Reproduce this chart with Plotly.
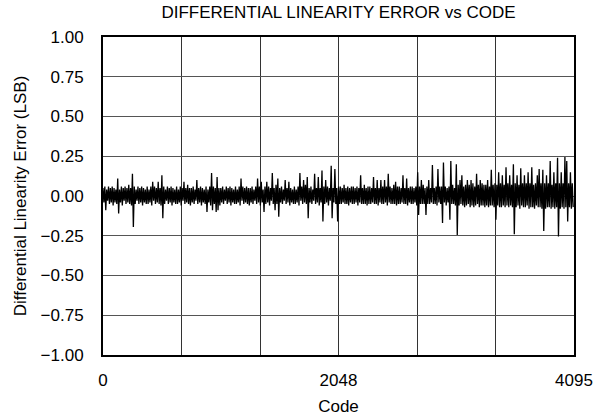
import plotly.graph_objects as go

# DNL values (LSB), one reading every 8 codes, estimated from the reference trace
dnl = [
    0.05,-0.04,0.06,-0.09,0.04,-0.03,0.06,-0.05,0.05,-0.04,0.06,-0.06,0.05,-0.04,0.04,-0.05,
    0.11,-0.11,0.04,-0.04,0.06,-0.06,0.05,-0.03,0.06,-0.05,0.05,-0.04,0.07,-0.05,0.05,-0.06,
    0.14,-0.195,0.06,-0.05,0.04,-0.03,0.06,-0.05,0.05,-0.04,0.06,-0.06,0.05,-0.04,0.04,-0.05,
    0.06,-0.05,0.04,-0.04,0.06,-0.06,0.09,-0.03,0.06,-0.05,0.05,-0.04,0.09,-0.05,0.05,-0.06,
    0.13,-0.14,0.06,-0.05,0.04,-0.03,0.06,-0.05,0.05,-0.04,0.06,-0.06,0.05,-0.04,0.04,-0.05,
    0.06,-0.05,0.04,-0.04,0.06,-0.06,0.05,-0.03,0.09,-0.05,0.05,-0.04,0.07,-0.05,0.05,-0.06,
    0.05,-0.04,0.06,-0.05,0.04,-0.03,0.10,-0.05,0.05,-0.04,0.06,-0.06,0.05,-0.04,0.04,-0.05,
    0.06,-0.10,0.04,-0.04,0.06,-0.06,0.145,-0.09,0.06,-0.05,0.05,-0.10,0.12,-0.09,0.05,-0.06,
    0.05,-0.04,0.06,-0.05,0.04,-0.03,0.06,-0.05,0.05,-0.04,0.06,-0.06,0.05,-0.04,0.04,-0.05,
    0.06,-0.05,0.04,-0.04,0.06,-0.06,0.11,-0.03,0.06,-0.05,0.05,-0.04,0.06,-0.05,0.05,-0.06,
    0.05,-0.04,0.06,-0.05,0.04,-0.03,0.06,-0.05,0.11,-0.04,0.06,-0.06,0.09,-0.04,0.04,-0.10,
    0.06,-0.05,0.09,-0.04,0.06,-0.06,0.05,-0.03,0.145,-0.05,0.05,-0.09,0.07,-0.05,0.11,-0.13,
    0.05,-0.04,0.06,-0.05,0.04,-0.03,0.10,-0.05,0.05,-0.04,0.09,-0.06,0.05,-0.04,0.04,-0.05,
    0.06,-0.05,0.04,-0.04,0.06,-0.06,0.145,-0.03,0.06,-0.05,0.10,-0.04,0.07,-0.05,0.12,-0.14,
    0.05,-0.04,0.06,-0.05,0.04,-0.03,0.14,-0.05,0.05,-0.04,0.12,-0.06,0.05,-0.04,0.16,-0.16,
    0.06,-0.05,0.10,-0.04,0.06,-0.06,0.05,-0.03,0.19,-0.14,0.05,-0.04,0.17,-0.05,0.05,-0.16,
    0.06,-0.05,0.06,-0.05,0.05,-0.04,0.07,-0.05,0.05,-0.05,0.06,-0.06,0.05,-0.04,0.06,-0.05,
    0.06,-0.05,0.05,-0.04,0.06,-0.06,0.05,-0.04,0.13,-0.05,0.05,-0.05,0.07,-0.05,0.05,-0.06,
    0.06,-0.05,0.06,-0.05,0.05,-0.04,0.12,-0.05,0.05,-0.05,0.10,-0.06,0.05,-0.04,0.10,-0.05,
    0.06,-0.05,0.10,-0.04,0.06,-0.06,0.14,-0.04,0.06,-0.05,0.05,-0.05,0.07,-0.05,0.09,-0.06,
    0.06,-0.05,0.06,-0.05,0.05,-0.04,0.13,-0.05,0.05,-0.05,0.11,-0.06,0.05,-0.04,0.06,-0.05,
    0.06,-0.05,0.05,-0.04,0.06,-0.06,0.15,-0.12,0.06,-0.05,0.10,-0.05,0.07,-0.05,0.05,-0.12,
    0.06,-0.05,0.10,-0.05,0.05,-0.04,0.195,-0.05,0.05,-0.05,0.06,-0.06,0.17,-0.04,0.06,-0.05,
    0.06,-0.17,0.21,-0.04,0.06,-0.06,0.05,-0.04,0.06,-0.15,0.22,-0.05,0.07,-0.05,0.05,-0.06,
    0.20,-0.245,0.07,-0.06,0.10,-0.05,0.13,-0.06,0.06,-0.07,0.07,-0.06,0.10,-0.05,0.07,-0.07,
    0.10,-0.06,0.08,-0.07,0.06,-0.06,0.14,-0.05,0.07,-0.07,0.10,-0.06,0.08,-0.06,0.07,-0.07,
    0.07,-0.06,0.10,-0.07,0.06,-0.06,0.165,-0.06,0.07,-0.07,0.08,-0.15,0.07,-0.06,0.15,-0.07,
    0.08,-0.07,0.13,-0.06,0.07,-0.07,0.18,-0.06,0.08,-0.07,0.13,-0.06,0.07,-0.07,0.20,-0.24,
    0.08,-0.07,0.13,-0.06,0.07,-0.08,0.175,-0.06,0.08,-0.07,0.13,-0.07,0.08,-0.06,0.15,-0.08,
    0.08,-0.07,0.18,-0.07,0.07,-0.08,0.08,-0.06,0.13,-0.07,0.17,-0.07,0.08,-0.08,0.165,-0.22,
    0.08,-0.08,0.13,-0.07,0.08,-0.07,0.22,-0.08,0.07,-0.07,0.15,-0.08,0.08,-0.07,0.24,-0.255,
    0.08,-0.08,0.15,-0.07,0.08,-0.08,0.245,-0.07,0.22,-0.16,0.08,-0.07,0.15,-0.08,0.08,-0.07,
]
code_step = 8
codes = [i * code_step for i in range(len(dnl))]

x_grid = [0, 682.5, 1365, 2047.5, 2730, 3412.5, 4095]
x_ticktext = ["0", "", "", "2048", "", "", "4095"]
y_vals = [-1.0, -0.75, -0.5, -0.25, 0.0, 0.25, 0.5, 0.75, 1.0]
y_text = ["\u22121.00", "\u22120.75", "\u22120.50", "\u22120.25", "0.00",
          "0.25", "0.50", "0.75", "1.00"]

title_text = "DIFFERENTIAL LINEARITY ERROR vs CODE"
x_title = "Code"
y_title = "Differential Linearity Error (LSB)"

FONT = "Liberation Sans, Arial, sans-serif"
FS = 17

fig = go.Figure()
fig.add_trace(go.Scatter(x=codes, y=dnl, mode="lines",
                         line=dict(color="black", width=1.3), hoverinfo="skip"))

fig.update_layout(
    width=599, height=420,
    margin=dict(l=103, r=25, t=37, b=65, autoexpand=False),
    paper_bgcolor="white", plot_bgcolor="white",
    showlegend=False,
    font=dict(family=FONT, size=FS, color="black"),
    title=dict(text=title_text, x=(103 + 574) / 2 / 599, xanchor="center",
               y=1 - 12 / 420, yanchor="middle", yref="container",
               font=dict(family=FONT, size=FS, color="black")),
)
fig.update_xaxes(
    range=[0, 4095], tickvals=x_grid, ticktext=x_ticktext,
    showgrid=True, gridcolor="#333333", gridwidth=1,
    showline=True, linecolor="black", linewidth=2, mirror=True,
    ticks="", ticklabelstandoff=9, zeroline=False,
    title=dict(text=x_title, standoff=11, font=dict(size=FS)),
    tickfont=dict(size=FS),
)
fig.update_yaxes(
    range=[-1.0, 1.0], tickvals=y_vals, ticktext=y_text,
    showgrid=True, gridcolor="#555555", gridwidth=1,
    showline=True, linecolor="black", linewidth=2, mirror=True,
    ticks="", ticklabelstandoff=14, zeroline=False,
    title=dict(text=y_title, standoff=10, font=dict(size=FS)),
    tickfont=dict(size=FS),
)

fig.write_html("out.html", config={"displayModeBar": False},
               post_script="document.body.style.margin='0px';")
